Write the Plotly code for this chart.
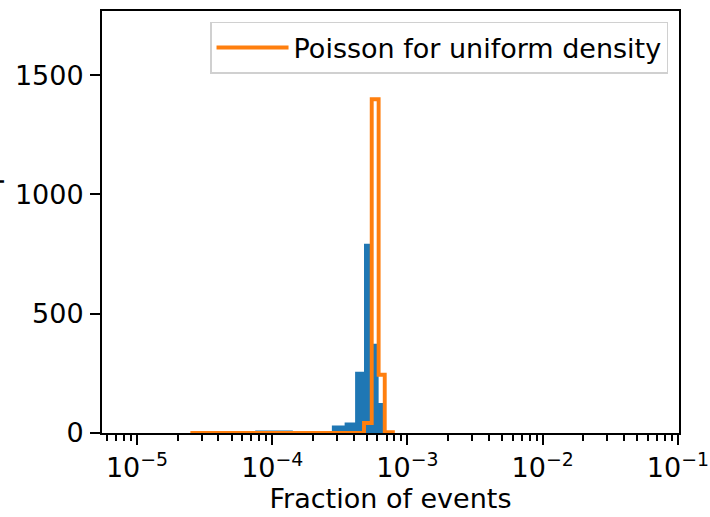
import plotly.graph_objects as go

# observed histogram (blue, filled): bin edges and counts
blue_edges = [7.48e-5, 1.42e-4, 2.09e-4, 2.76e-4, 3.43e-4, 4.10e-4,
              4.77e-4, 5.44e-4, 6.12e-4, 6.79e-4]
blue_counts = [11, 0, 3, 31, 44, 257, 793, 374, 126]

# Poisson expectation for uniform density (orange, step outline)
poisson_edges = [2.48e-5, 4.77e-4, 5.44e-4, 6.12e-4, 6.79e-4, 7.8e-4]
poisson_counts = [0, 42, 1399, 244, 3]

x_tickvals = [1e-5, 1e-4, 1e-3, 1e-2, 1e-1]
x_ticktext = ["10<sup>\u22125</sup>", "10<sup>\u22124</sup>", "10<sup>\u22123</sup>",
              "10<sup>\u22122</sup>", "10<sup>\u22121</sup>"]
y_tickvals = [0, 500, 1000, 1500]

FONT = "DejaVu Sans"
BLUE = "#1f77b4"
ORANGE = "#ff7f0e"


def step_path(edges, counts):
    """Outline of a histogram, like matplotlib's histtype='step'."""
    xs, ys = [edges[0]], [0]
    for i, c in enumerate(counts):
        xs += [edges[i], edges[i + 1]]
        ys += [c, c]
    xs.append(edges[-1])
    ys.append(0)
    return xs, ys


fig = go.Figure()

bx, by = step_path(blue_edges, blue_counts)
fig.add_trace(go.Scatter(
    x=bx, y=by, mode="lines", fill="tozeroy", fillcolor=BLUE,
    line=dict(width=0, color=BLUE), showlegend=False, hoverinfo="skip",
))

px_, py_ = step_path(poisson_edges, poisson_counts)
fig.add_trace(go.Scatter(
    x=px_, y=py_, mode="lines", name="Poisson for uniform density",
    line=dict(width=3.9, color=ORANGE),
))

minor_x = [m * 10.0 ** e for e in range(-6, 0) for m in range(2, 10)]

fig.update_xaxes(
    type="log", range=[-5.259, -0.992], automargin=False,
    tickmode="array", tickvals=x_tickvals, ticktext=x_ticktext,
    ticks="outside", ticklen=10, tickwidth=2, tickcolor="black",
    minor=dict(tickmode="array", tickvals=minor_x, ticks="outside",
               ticklen=5.5, tickwidth=1.6, tickcolor="black"),
    showline=True, linecolor="black", linewidth=2, mirror=True,
    showgrid=False, zeroline=False,
    tickfont=dict(family=FONT, size=27, color="black"),
    title=dict(text="Fraction of events", standoff=6,
               font=dict(family=FONT, size=27, color="black")),
)
fig.update_yaxes(
    range=[0, 1769], automargin=False, tickmode="array", tickvals=y_tickvals,
    ticks="outside", ticklen=10, tickwidth=2, tickcolor="black",
    showline=True, linecolor="black", linewidth=2, mirror=True,
    showgrid=False, zeroline=False,
    tickfont=dict(family=FONT, size=27, color="black"),
    ticklabelstandoff=1,
)

# y label sits mostly off the canvas, as in the original figure
fig.add_annotation(
    text="Number of pixels", textangle=-90, showarrow=False,
    xref="paper", yref="paper", x=0, y=0.5, xanchor="right", yanchor="middle",
    xshift=-96.5, font=dict(family=FONT, size=27, color="black"),
)

fig.update_layout(
    width=710, height=517,
    margin=dict(l=102, r=31, t=11, b=84),
    paper_bgcolor="white", plot_bgcolor="white",
    legend=dict(
        x=0.981, y=0.974, xanchor="right", yanchor="top",
        bgcolor="rgba(255,255,255,0.8)", bordercolor="#d0d0d0", borderwidth=1.5,
        font=dict(family=FONT, size=27, color="black"),
        itemwidth=72,
    ),
)

# drop the page's default body margin so the figure sits at the window origin
fig.write_html("out.html", config={"displayModeBar": False},
               post_script="document.body.style.margin = '0';")
